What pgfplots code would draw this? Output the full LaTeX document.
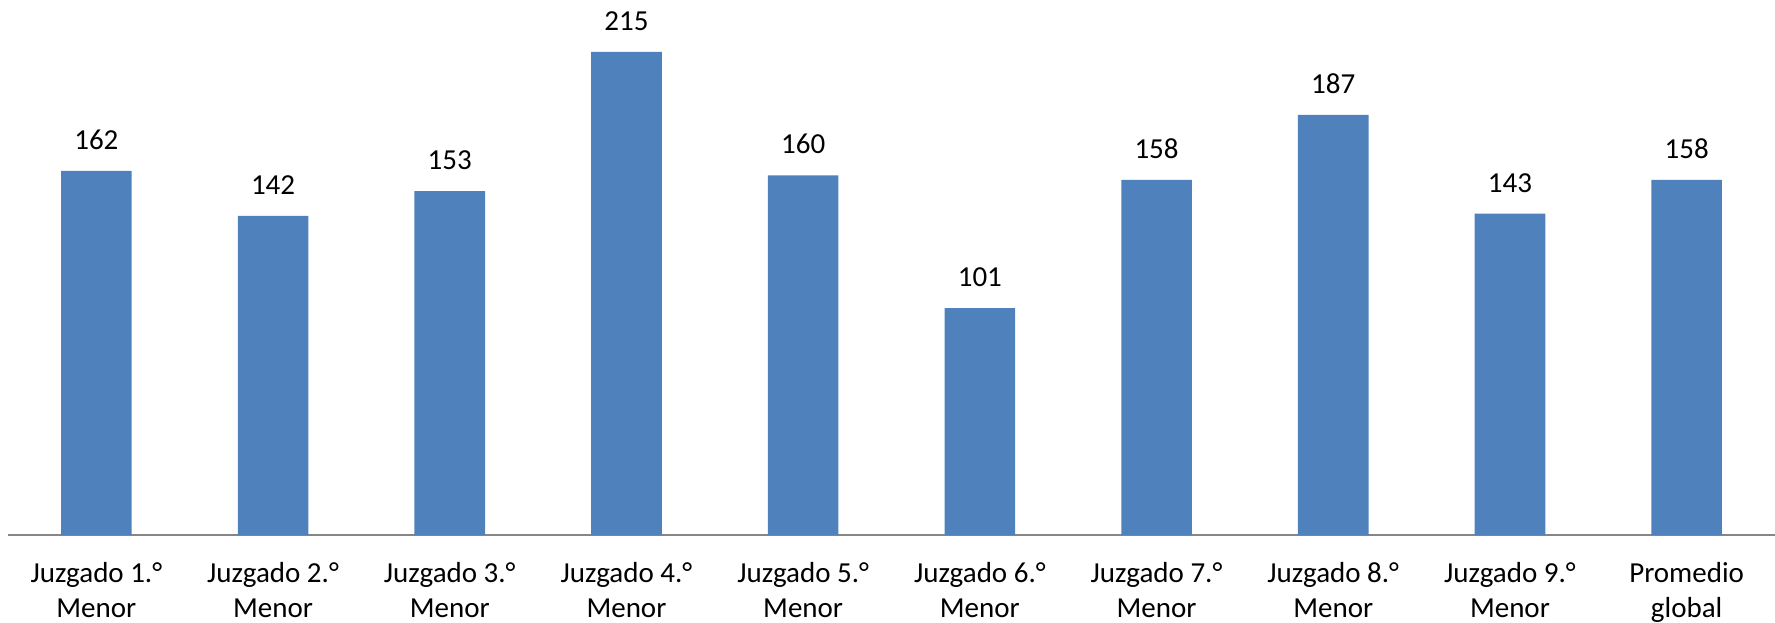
\documentclass[border=0pt]{standalone}
\usepackage{pgfplots}
\pgfplotsset{compat=1.18}
\usepackage{fontspec}
\setmainfont{Carlito}
\definecolor{barblue}{HTML}{4F81BD}
\definecolor{axisgray}{HTML}{868686}
\begin{document}
\fontsize{14.5bp}{17.6bp}\selectfont
\begin{tikzpicture}
\begin{axis}[
    width=883.5bp, height=267.5bp,
    scale only axis,
    xmin=-0.5, xmax=9.5,
    ymin=0, ymax=238.1,
    axis x line*=bottom,
    axis y line=none,
    x axis line style={axisgray, line width=1bp, -},
    xtick=data,
    xticklabels={{Juzgado 1.°\\Menor},{Juzgado 2.°\\Menor},{Juzgado 3.°\\Menor},{Juzgado 4.°\\Menor},{Juzgado 5.°\\Menor},{Juzgado 6.°\\Menor},{Juzgado 7.°\\Menor},{Juzgado 8.°\\Menor},{Juzgado 9.°\\Menor},{Promedio\\global}},
    major tick length=0pt,
    xticklabel style={align=center, anchor=north, inner sep=0pt, yshift=-13.5bp, font=\fontsize{14.5bp}{17.6bp}\selectfont},
    ybar, bar width=35.3bp,
    /pgf/number format/assume math mode=true,
    nodes near coords,
    nodes near coords style={anchor=south, inner sep=0pt, yshift=10.5bp, font=\fontsize{14.5bp}{17.6bp}\selectfont, text=black},
    clip=false,
]
\addplot[fill=barblue, draw=none] coordinates {
    (0,162) (1,142) (2,153) (3,215) (4,160)
    (5,101) (6,158) (7,187) (8,143) (9,158)
};
\coordinate (bl) at (axis cs:-0.5,0);
\coordinate (tr) at (axis cs:9.5,238.1);
\end{axis}
\pgfresetboundingbox
\path (bl) ++(-4bp,-44bp) rectangle (tr);
\end{tikzpicture}
\end{document}
